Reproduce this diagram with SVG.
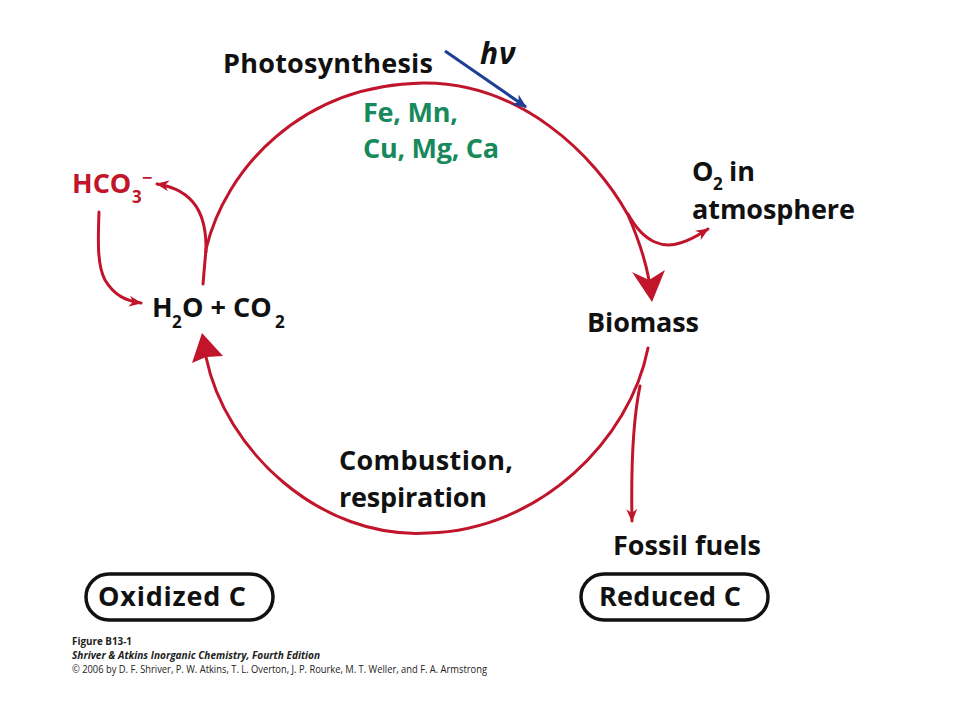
<svg xmlns="http://www.w3.org/2000/svg" width="960" height="720" viewBox="0 0 960 720">
<style>
  .lbl { font-family: "Open Sans", "Liberation Sans", sans-serif; font-weight: 700; font-size: 27px; fill: #111; }
  .sub { font-size: 17px; }
  .red { fill: #c0152b; }
  .green { fill: #17895b; }
  .wire { fill: none; stroke: #c0152b; stroke-width: 3; stroke-linecap: round; }
  .blue { fill: none; stroke: #1d3f94; stroke-width: 3; }
  .head { fill: #c0152b; }
  .box { fill: #fff; stroke: #111; stroke-width: 3.5; }
  .foot { font-family: "Open Sans", "Liberation Sans", sans-serif; font-size: 10.5px; fill: #222; }
</style>
<defs>
  <marker id="barb" viewBox="0 0 12 10" refX="11" refY="5" markerWidth="13" markerHeight="11" markerUnits="userSpaceOnUse" orient="auto">
    <path d="M0,0 L12,5 L0,10 L3.5,5 Z" fill="#c0152b"/>
  </marker>
  <marker id="barbBlue" viewBox="0 0 12 10" refX="11" refY="5" markerWidth="15" markerHeight="12" markerUnits="userSpaceOnUse" orient="auto">
    <path d="M0,0 L12,5 L0,10 L3.5,5 Z" fill="#1d3f94"/>
  </marker>
</defs>
<rect width="960" height="720" fill="#fff"/>

<g id="connectors">
  <!-- photosynthesis arc -->
  <path class="wire" d="M203,284 L206,249 C 225,170 300,85 423,83 C 520,82 595,155 628,215 C 638,238 645,258 649,280"/>
  <polygon class="head" points="652,302 632,272 649,280 665,270"/>
  <!-- O2 branch -->
  <path class="wire" d="M628,214 C 645,245 665,248 680,243 C 692,240 700,234 708,229" marker-end="url(#barb)"/>
  <!-- HCO3 branch up -->
  <path class="wire" d="M206,252 C 207,215 195,190 157,184" marker-end="url(#barb)"/>
  <!-- HCO3 down to H2O -->
  <path class="wire" d="M99,212 C 98,240 97,265 105,280 C 115,297 128,301 141,303" marker-end="url(#barb)"/>
  <!-- combustion arc -->
  <path class="wire" d="M648,348 C 630,440 540,530 428,533 C 320,540 225,450 206,357"/>
  <polygon class="head" points="202,333 192,363 206,357 223,356"/>
  <!-- fossil fuels branch -->
  <path class="wire" d="M640,386 C 633,420 631,470 632,521" marker-end="url(#barb)"/>
  <!-- h nu -->
  <path class="blue" d="M445,51 L526,107" marker-end="url(#barbBlue)"/>
</g>

<g id="photosynthesis">
  <text class="lbl" x="223" y="73" textLength="210">Photosynthesis</text>
</g>
<g id="hnu">
  <text x="480" y="64" font-family="Open Sans, Liberation Sans, sans-serif" font-weight="700" font-style="italic" font-size="30" letter-spacing="1" fill="#111">hν</text>
</g>
<g id="metals">
  <text class="lbl green" x="363" y="122" textLength="95">Fe, Mn,</text>
  <text class="lbl green" x="363" y="158" textLength="136">Cu, Mg, Ca</text>
</g>
<g id="hco3">
  <text class="lbl red" x="72" y="193">HCO<tspan class="sub" x="132" dy="10">3</tspan><tspan x="142" dy="-19" font-size="18">−</tspan></text>
</g>
<g id="h2o-co2">
  <text class="lbl" x="152" y="317">H<tspan class="sub" x="172" dy="11">2</tspan><tspan x="182" dy="-11">O + CO</tspan><tspan class="sub" x="275" dy="11">2</tspan></text>
</g>
<g id="o2">
  <text class="lbl" x="692" y="181">O<tspan class="sub" x="713" dy="9" font-size="16">2</tspan><tspan x="729" dy="-9">in</tspan></text>
  <text class="lbl" x="692" y="219" textLength="163">atmosphere</text>
</g>
<g id="biomass">
  <text class="lbl" x="587" y="332" textLength="112">Biomass</text>
</g>
<g id="combustion">
  <text class="lbl" x="339" y="470" textLength="174">Combustion,</text>
  <text class="lbl" x="339" y="507" textLength="148">respiration</text>
</g>
<g id="fossil">
  <text class="lbl" x="613" y="555" textLength="148">Fossil fuels</text>
</g>
<g id="oxidized">
  <rect class="box" x="86" y="574" width="187" height="46" rx="23"/>
  <text class="lbl" x="98" y="606" textLength="148">Oxidized C</text>
</g>
<g id="reduced">
  <rect class="box" x="581" y="574" width="187" height="46" rx="23"/>
  <text class="lbl" x="599" y="606" textLength="142">Reduced C</text>
</g>
<g id="footer">
  <text class="foot" x="72" y="645" font-weight="700" textLength="60" lengthAdjust="spacingAndGlyphs">Figure B13-1</text>
  <text class="foot" x="72" y="659" font-weight="700" font-style="italic" textLength="248" lengthAdjust="spacingAndGlyphs">Shriver &amp; Atkins Inorganic Chemistry, Fourth Edition</text>
  <text class="foot" x="72" y="673" textLength="415" lengthAdjust="spacingAndGlyphs">© 2006 by D. F. Shriver, P. W. Atkins, T. L. Overton, J. P. Rourke, M. T. Weller, and F. A. Armstrong</text>
</g>
</svg>
